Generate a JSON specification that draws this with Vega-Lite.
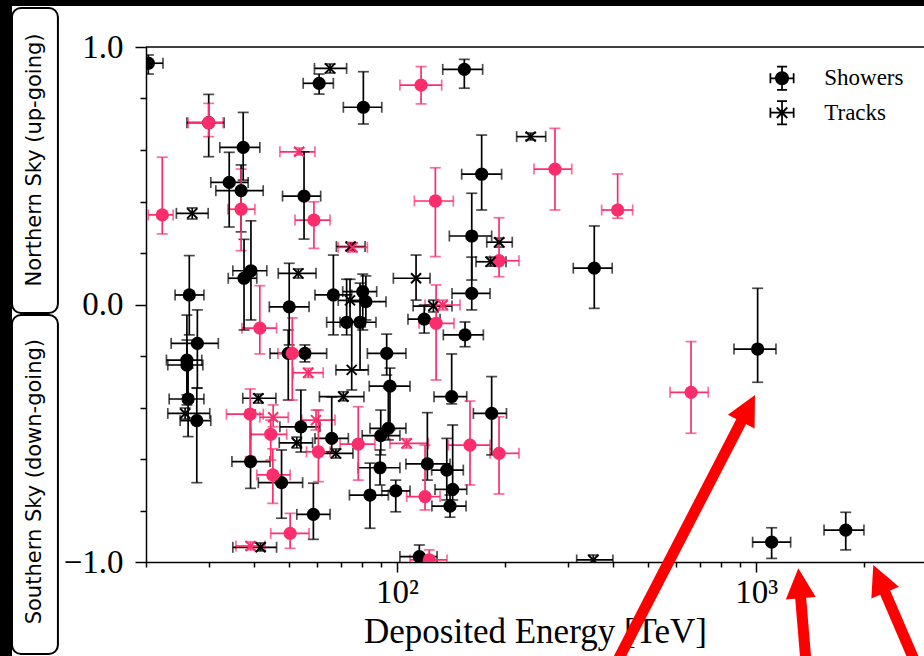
{
  "$schema": "https://vega.github.io/schema/vega-lite/v6.json",
  "width": 778,
  "height": 515,
  "autosize": {"type": "none"},
  "padding": {"left": 146, "top": 47, "right": 0, "bottom": 94},
  "background": "white",
  "config": {
    "view": {"stroke": null},
    "font": "Liberation Serif",
    "axis": {
      "domainColor": "black", "domainWidth": 1.5, "tickColor": "black", "tickWidth": 1.5,
      "labelColor": "black", "titleColor": "black", "labelFont": "Liberation Serif", "titleFont": "Liberation Serif",
      "labelFontSize": 33, "titleFontSize": 35, "titleFontWeight": "normal", "grid": false,
      "labelOverlap": false, "labelFlush": false
    }
  },
  "datasets": {
    "ev": [
      {"E":20.3,"Elo":18.4,"Ehi":22.3,"y":0.937,"ylo":0.895,"yhi":0.969,"t":"S","g":"k"},
      {"E":29.9,"Elo":26.0,"Ehi":33.0,"y":0.706,"ylo":0.574,"yhi":0.816,"t":"S","g":"k"},
      {"E":37.3,"Elo":32.1,"Ehi":41.5,"y":0.610,"ylo":0.483,"yhi":0.746,"t":"S","g":"k"},
      {"E":34.1,"Elo":30.3,"Ehi":38.5,"y":0.474,"ylo":0.301,"yhi":0.591,"t":"S","g":"k"},
      {"E":36.8,"Elo":31.3,"Ehi":42.4,"y":0.442,"ylo":0.282,"yhi":0.542,"t":"S","g":"k"},
      {"E":26.4,"Elo":24.1,"Ehi":29.0,"y":0.037,"ylo":-0.118,"yhi":0.190,"t":"S","g":"k"},
      {"E":37.5,"Elo":33.9,"Ehi":40.7,"y":0.102,"ylo":-0.099,"yhi":0.253,"t":"S","g":"k"},
      {"E":39.2,"Elo":34.9,"Ehi":43.4,"y":0.131,"ylo":-0.060,"yhi":0.325,"t":"S","g":"k"},
      {"E":50.1,"Elo":44.1,"Ehi":56.9,"y":-0.009,"ylo":-0.157,"yhi":0.160,"t":"S","g":"k"},
      {"E":49.8,"Elo":44.3,"Ehi":55.4,"y":-0.190,"ylo":-0.371,"yhi":-0.099,"t":"S","g":"k"},
      {"E":55.4,"Elo":49.1,"Ehi":63.7,"y":-0.190,"ylo":-0.223,"yhi":-0.157,"t":"S","g":"k"},
      {"E":54.0,"Elo":47.2,"Ehi":61.0,"y":-0.475,"ylo":-0.573,"yhi":-0.332,"t":"S","g":"k"},
      {"E":65.8,"Elo":59.1,"Ehi":73.2,"y":-0.520,"ylo":-0.573,"yhi":-0.359,"t":"S","g":"k"},
      {"E":90.1,"Elo":80.0,"Ehi":101.9,"y":-0.509,"ylo":-0.584,"yhi":-0.410,"t":"S","g":"k"},
      {"E":94.6,"Elo":84.1,"Ehi":105.9,"y":-0.481,"ylo":-0.526,"yhi":-0.324,"t":"S","g":"k"},
      {"E":39.1,"Elo":34.7,"Ehi":44.3,"y":-0.610,"ylo":-0.714,"yhi":-0.410,"t":"S","g":"k"},
      {"E":47.7,"Elo":41.1,"Ehi":54.6,"y":-0.692,"ylo":-0.830,"yhi":-0.565,"t":"S","g":"k"},
      {"E":58.5,"Elo":52.6,"Ehi":65.1,"y":-0.815,"ylo":-0.912,"yhi":-0.694,"t":"S","g":"k"},
      {"E":27.8,"Elo":23.5,"Ehi":31.8,"y":-0.151,"ylo":-0.325,"yhi":-0.021,"t":"S","g":"k"},
      {"E":26.0,"Elo":22.8,"Ehi":28.6,"y":-0.216,"ylo":-0.351,"yhi":-0.041,"t":"S","g":"k"},
      {"E":26.0,"Elo":23.0,"Ehi":28.8,"y":-0.235,"ylo":-0.390,"yhi":-0.138,"t":"S","g":"k"},
      {"E":26.2,"Elo":23.2,"Ehi":29.0,"y":-0.367,"ylo":-0.513,"yhi":-0.247,"t":"S","g":"k"},
      {"E":27.7,"Elo":24.9,"Ehi":30.3,"y":-0.451,"ylo":-0.692,"yhi":-0.324,"t":"S","g":"k"},
      {"E":55.1,"Elo":48.0,"Ehi":61.3,"y":0.421,"ylo":0.254,"yhi":0.593,"t":"S","g":"k"},
      {"E":66.5,"Elo":59.1,"Ehi":74.8,"y":0.037,"ylo":-0.118,"yhi":0.192,"t":"S","g":"k"},
      {"E":80.3,"Elo":70.6,"Ehi":87.8,"y":0.050,"ylo":-0.099,"yhi":0.118,"t":"S","g":"k"},
      {"E":81.9,"Elo":74.0,"Ehi":93.2,"y":0.011,"ylo":-0.060,"yhi":0.111,"t":"S","g":"k"},
      {"E":72.4,"Elo":63.7,"Ehi":81.5,"y":-0.069,"ylo":-0.118,"yhi":0.098,"t":"S","g":"k"},
      {"E":78.9,"Elo":69.4,"Ehi":87.4,"y":-0.069,"ylo":-0.254,"yhi":0.083,"t":"S","g":"k"},
      {"E":60.7,"Elo":54.8,"Ehi":66.5,"y":0.859,"ylo":0.817,"yhi":0.895,"t":"S","g":"k"},
      {"E":80.6,"Elo":70.9,"Ehi":90.7,"y":0.766,"ylo":0.701,"yhi":0.904,"t":"S","g":"k"},
      {"E":154.0,"Elo":134.1,"Ehi":173.2,"y":0.913,"ylo":0.840,"yhi":0.952,"t":"S","g":"k"},
      {"E":172.1,"Elo":151.4,"Ehi":195.6,"y":0.506,"ylo":0.367,"yhi":0.658,"t":"S","g":"k"},
      {"E":161.5,"Elo":139.9,"Ehi":183.5,"y":0.266,"ylo":0.095,"yhi":0.432,"t":"S","g":"k"},
      {"E":354.3,"Elo":309.7,"Ehi":397.4,"y":0.141,"ylo":-0.015,"yhi":0.305,"t":"S","g":"k"},
      {"E":119.1,"Elo":107.3,"Ehi":131.8,"y":-0.057,"ylo":-0.111,"yhi":-0.002,"t":"S","g":"k"},
      {"E":161.5,"Elo":142.3,"Ehi":181.6,"y":0.043,"ylo":-0.021,"yhi":0.184,"t":"S","g":"k"},
      {"E":154.7,"Elo":134.6,"Ehi":174.0,"y":-0.118,"ylo":-0.164,"yhi":-0.068,"t":"S","g":"k"},
      {"E":142.0,"Elo":126.8,"Ehi":156.4,"y":-0.358,"ylo":-0.386,"yhi":-0.192,"t":"S","g":"k"},
      {"E":183.5,"Elo":163.2,"Ehi":201.8,"y":-0.423,"ylo":-0.584,"yhi":-0.280,"t":"S","g":"k"},
      {"E":121.5,"Elo":105.9,"Ehi":140.5,"y":-0.619,"ylo":-0.682,"yhi":-0.420,"t":"S","g":"k"},
      {"E":137.6,"Elo":124.9,"Ehi":153.0,"y":-0.643,"ylo":-0.759,"yhi":-0.520,"t":"S","g":"k"},
      {"E":142.9,"Elo":127.6,"Ehi":156.4,"y":-0.718,"ylo":-0.759,"yhi":-0.468,"t":"S","g":"k"},
      {"E":140.5,"Elo":125.1,"Ehi":155.7,"y":-0.783,"ylo":-0.826,"yhi":-0.740,"t":"S","g":"k"},
      {"E":89.7,"Elo":78.0,"Ehi":101.9,"y":-0.634,"ylo":-0.701,"yhi":-0.565,"t":"S","g":"k"},
      {"E":84.1,"Elo":73.7,"Ehi":94.6,"y":-0.740,"ylo":-0.869,"yhi":-0.616,"t":"S","g":"k"},
      {"E":99.2,"Elo":90.7,"Ehi":108.7,"y":-0.724,"ylo":-0.805,"yhi":-0.682,"t":"S","g":"k"},
      {"E":93.6,"Elo":82.7,"Ehi":105.9,"y":-0.190,"ylo":-0.274,"yhi":-0.115,"t":"S","g":"k"},
      {"E":95.6,"Elo":83.7,"Ehi":108.7,"y":-0.317,"ylo":-0.487,"yhi":-0.247,"t":"S","g":"k"},
      {"E":115.4,"Elo":101.9,"Ehi":129.3,"y":-0.979,"ylo":-1.01,"yhi":-0.934,"t":"S","g":"k"},
      {"E":1010,"Elo":868,"Ehi":1136,"y":-0.173,"ylo":-0.302,"yhi":0.063,"t":"S","g":"k"},
      {"E":1105,"Elo":978,"Ehi":1248,"y":-0.923,"ylo":-0.986,"yhi":-0.867,"t":"S","g":"k"},
      {"E":1777,"Elo":1546,"Ehi":1997,"y":-0.876,"ylo":-0.953,"yhi":-0.807,"t":"S","g":"k"},
      {"E":26.9,"Elo":24.3,"Ehi":29.8,"y":0.354,"ylo":0.332,"yhi":0.375,"t":"T","g":"k"},
      {"E":74.8,"Elo":67.6,"Ehi":83.2,"y":-0.254,"ylo":-0.332,"yhi":-0.068,"t":"T","g":"k"},
      {"E":70.9,"Elo":60.8,"Ehi":80.9,"y":-0.358,"ylo":-0.374,"yhi":-0.339,"t":"T","g":"k"},
      {"E":41.1,"Elo":37.2,"Ehi":46.0,"y":-0.364,"ylo":-0.383,"yhi":-0.348,"t":"T","g":"k"},
      {"E":52.6,"Elo":47.0,"Ehi":58.2,"y":-0.537,"ylo":-0.557,"yhi":-0.515,"t":"T","g":"k"},
      {"E":67.6,"Elo":60.7,"Ehi":75.4,"y":-0.578,"ylo":-0.596,"yhi":-0.561,"t":"T","g":"k"},
      {"E":41.7,"Elo":34.9,"Ehi":46.2,"y":-0.943,"ylo":-0.957,"yhi":-0.926,"t":"T","g":"k"},
      {"E":25.7,"Elo":23.0,"Ehi":30.1,"y":-0.423,"ylo":-0.445,"yhi":-0.402,"t":"T","g":"k"},
      {"E":53.1,"Elo":46.7,"Ehi":59.5,"y":0.121,"ylo":0.103,"yhi":0.138,"t":"T","g":"k"},
      {"E":74.0,"Elo":68.6,"Ehi":81.9,"y":0.016,"ylo":-0.068,"yhi":0.098,"t":"T","g":"k"},
      {"E":74.3,"Elo":67.8,"Ehi":81.5,"y":0.225,"ylo":0.210,"yhi":0.240,"t":"T","g":"k"},
      {"E":65.1,"Elo":58.9,"Ehi":72.4,"y":0.917,"ylo":0.899,"yhi":0.934,"t":"T","g":"k"},
      {"E":235.7,"Elo":215.4,"Ehi":259.5,"y":0.652,"ylo":0.639,"yhi":0.666,"t":"T","g":"k"},
      {"E":192.6,"Elo":177.8,"Ehi":209.4,"y":0.242,"ylo":0.223,"yhi":0.258,"t":"T","g":"k"},
      {"E":182.4,"Elo":166.0,"Ehi":201.2,"y":0.166,"ylo":0.149,"yhi":0.184,"t":"T","g":"k"},
      {"E":113.0,"Elo":97.7,"Ehi":123.6,"y":0.102,"ylo":0.017,"yhi":0.192,"t":"T","g":"k"},
      {"E":126.3,"Elo":110.9,"Ehi":142.3,"y":-0.006,"ylo":-0.029,"yhi":0.017,"t":"T","g":"k"},
      {"E":352.1,"Elo":316.5,"Ehi":399.3,"y":-0.992,"ylo":-1.01,"yhi":-0.973,"t":"T","g":"k"},
      {"E":29.9,"Elo":26.2,"Ehi":32.8,"y":0.706,"ylo":0.652,"yhi":0.781,"t":"S","g":"p"},
      {"E":36.8,"Elo":33.8,"Ehi":40.2,"y":0.370,"ylo":0.209,"yhi":0.526,"t":"S","g":"p"},
      {"E":22.2,"Elo":20.3,"Ehi":23.8,"y":0.348,"ylo":0.274,"yhi":0.572,"t":"S","g":"p"},
      {"E":41.5,"Elo":37.0,"Ehi":46.2,"y":-0.092,"ylo":-0.192,"yhi":0.073,"t":"S","g":"p"},
      {"E":51.1,"Elo":46.6,"Ehi":57.2,"y":-0.190,"ylo":-0.371,"yhi":-0.052,"t":"S","g":"p"},
      {"E":39.0,"Elo":33.5,"Ehi":42.4,"y":-0.426,"ylo":-0.591,"yhi":-0.328,"t":"S","g":"p"},
      {"E":44.5,"Elo":39.1,"Ehi":49.3,"y":-0.504,"ylo":-0.604,"yhi":-0.449,"t":"S","g":"p"},
      {"E":60.4,"Elo":56.0,"Ehi":65.1,"y":-0.572,"ylo":-0.688,"yhi":-0.410,"t":"S","g":"p"},
      {"E":78.0,"Elo":69.4,"Ehi":86.8,"y":-0.542,"ylo":-0.682,"yhi":-0.397,"t":"S","g":"p"},
      {"E":45.1,"Elo":40.7,"Ehi":50.4,"y":-0.662,"ylo":-0.772,"yhi":-0.561,"t":"S","g":"p"},
      {"E":50.4,"Elo":44.5,"Ehi":56.9,"y":-0.889,"ylo":-0.947,"yhi":-0.811,"t":"S","g":"p"},
      {"E":58.7,"Elo":52.0,"Ehi":65.1,"y":0.328,"ylo":0.218,"yhi":0.399,"t":"S","g":"p"},
      {"E":116.7,"Elo":101.9,"Ehi":133.2,"y":0.852,"ylo":0.779,"yhi":0.924,"t":"S","g":"p"},
      {"E":275.4,"Elo":240.8,"Ehi":306.6,"y":0.526,"ylo":0.367,"yhi":0.684,"t":"S","g":"p"},
      {"E":127.9,"Elo":111.8,"Ehi":143.5,"y":0.402,"ylo":0.186,"yhi":0.531,"t":"S","g":"p"},
      {"E":192.4,"Elo":181.6,"Ehi":218.6,"y":0.170,"ylo":0.108,"yhi":0.337,"t":"S","g":"p"},
      {"E":411.6,"Elo":371.5,"Ehi":453.2,"y":0.367,"ylo":0.335,"yhi":0.507,"t":"S","g":"p"},
      {"E":128.5,"Elo":115.2,"Ehi":144.1,"y":-0.073,"ylo":-0.293,"yhi":0.076,"t":"S","g":"p"},
      {"E":159.7,"Elo":138.9,"Ehi":181.6,"y":-0.546,"ylo":-0.701,"yhi":-0.375,"t":"S","g":"p"},
      {"E":192.4,"Elo":181.6,"Ehi":218.6,"y":-0.578,"ylo":-0.736,"yhi":-0.436,"t":"S","g":"p"},
      {"E":119.7,"Elo":106.4,"Ehi":131.8,"y":-0.746,"ylo":-0.798,"yhi":-0.546,"t":"S","g":"p"},
      {"E":123.0,"Elo":108.7,"Ehi":137.8,"y":-0.992,"ylo":-1.03,"yhi":-0.953,"t":"S","g":"p"},
      {"E":659,"Elo":576,"Ehi":736,"y":-0.341,"ylo":-0.500,"yhi":-0.144,"t":"S","g":"p"},
      {"E":56.6,"Elo":51.4,"Ehi":62.3,"y":-0.265,"ylo":-0.283,"yhi":-0.248,"t":"T","g":"p"},
      {"E":45.2,"Elo":41.5,"Ehi":49.8,"y":-0.438,"ylo":-0.475,"yhi":-0.390,"t":"T","g":"p"},
      {"E":59.5,"Elo":54.3,"Ehi":67.2,"y":-0.449,"ylo":-0.487,"yhi":-0.410,"t":"T","g":"p"},
      {"E":106.4,"Elo":95.6,"Ehi":122.2,"y":-0.539,"ylo":-0.557,"yhi":-0.522,"t":"T","g":"p"},
      {"E":39.1,"Elo":35.6,"Ehi":42.9,"y":-0.938,"ylo":-0.953,"yhi":-0.922,"t":"T","g":"p"},
      {"E":53.4,"Elo":47.2,"Ehi":59.1,"y":0.593,"ylo":0.581,"yhi":0.608,"t":"T","g":"p"},
      {"E":75.1,"Elo":68.6,"Ehi":82.7,"y":0.222,"ylo":0.204,"yhi":0.240,"t":"T","g":"p"},
      {"E":134.1,"Elo":119.7,"Ehi":149.8,"y":-0.002,"ylo":-0.021,"yhi":0.017,"t":"T","g":"p"}
    ],
    "arrows": [
      {"tailE":412.5,"tailY":-1.3806,"endE":936,"endY":-0.4206,"tipE":993,"tipY":-0.3515,"ang":27.3},
      {"tailE":1377,"tailY":-1.3883,"endE":1324,"endY":-1.1018,"tipE":1311,"tipY":-1.0245,"ang":-4.7},
      {"tailE":2770,"tailY":-1.3883,"endE":2231,"endY":-1.0831,"tipE":2120,"tipY":-1.0117,"ang":-23.3}
    ]
  },
  "layer": [
    {
      "data": {"values": [{}]},
      "mark": {"type": "rect", "color": "black", "clip": false},
      "encoding": {
        "x": {"datum": 5, "scale": {"type": "log", "domain": [20, 2935], "nice": false}},
        "x2": {"datum": 100000},
        "y": {"datum": 1.4, "scale": {"domain": [-1, 1], "nice": false, "zero": false}},
        "y2": {"datum": 1.1592}
      }
    },
    {
      "data": {"values": [{}]},
      "mark": {"type": "rect", "color": "black", "clip": false},
      "encoding": {
        "x": {"datum": 3},
        "x2": {"datum": 8.47},
        "y": {"datum": 1.4},
        "y2": {"datum": -1.6}
      }
    },
    {
      "data": {"values": [{}]},
      "mark": {"type": "rect", "fill": "white", "stroke": "black", "strokeWidth": 2, "cornerRadius": 9, "clip": false},
      "encoding": {
        "x": {"datum": 8.47},
        "x2": {"datum": 11.37},
        "y": {"datum": 1.1515},
        "y2": {"datum": -0.033}
      }
    },
    {
      "data": {"values": [{}]},
      "mark": {"type": "rect", "fill": "white", "stroke": "black", "strokeWidth": 2, "cornerRadius": 9, "clip": false},
      "encoding": {
        "x": {"datum": 8.47},
        "x2": {"datum": 11.37},
        "y": {"datum": -0.0408},
        "y2": {"datum": -1.3573}
      }
    },
    {
      "data": {"values": [{}]},
      "mark": {"type": "text", "text": "Northern Sky (up-going)", "angle": 270, "font": "DejaVu Sans", "fontSize": 21, "color": "black", "align": "center", "baseline": "middle", "clip": false},
      "encoding": {"x": {"datum": 9.816}, "y": {"datum": 0.5612}}
    },
    {
      "data": {"values": [{}]},
      "mark": {"type": "text", "text": "Southern Sky (down-going)", "angle": 270, "font": "DejaVu Sans", "fontSize": 21, "color": "black", "align": "center", "baseline": "middle", "clip": false},
      "encoding": {"x": {"datum": 9.816}, "y": {"datum": -0.688}}
    },
    {
      "data": {"name": "ev"},
      "mark": {"type": "errorbar", "ticks": {"size": 11}, "thickness": 1.7, "clip": true},
      "encoding": {
        "x": {"field": "Elo", "type": "quantitative", "scale": {"type": "log", "domain": [20, 2935], "nice": false},
          "axis": {
            "title": "Deposited Energy [TeV]",
            "labelFont": "Liberation Serif", "titleFont": "Liberation Serif",
            "labelFontSize": 33, "titleFontSize": 35,
            "values": [20, 30, 40, 50, 60, 70, 80, 90, 100, 200, 300, 400, 500, 600, 700, 800, 900, 1000, 2000],
            "labelExpr": "datum.value == 100 ? '10²' : datum.value == 1000 ? '10³' : ''",
            "tickSize": {"condition": {"test": "datum.value == 100 || datum.value == 1000", "value": 10}, "value": 5},
            "labelPadding": 4,
            "titlePadding": 5
          }},
        "x2": {"field": "Ehi"},
        "y": {"field": "y", "type": "quantitative", "scale": {"domain": [-1, 1], "nice": false, "zero": false},
          "axis": {
            "title": null,
            "labelFont": "Liberation Serif", "labelFontSize": 33,
            "values": [-1, -0.9, -0.8, -0.7, -0.6, -0.5, -0.4, -0.3, -0.2, -0.1, 0, 0.1, 0.2, 0.3, 0.4, 0.5, 0.6, 0.7, 0.8, 0.9, 1],
            "format": ".1f",
            "labelExpr": "abs(datum.value*2 - round(datum.value*2)) < 0.001 ? datum.label : ''",
            "tickSize": {"condition": {"test": "abs(datum.value*2 - round(datum.value*2)) < 0.001", "value": 11}, "value": 6},
            "labelPadding": 12
          }},
        "color": {"field": "g", "type": "nominal", "scale": {"domain": ["k", "p"], "range": ["#000000", "#fb2d6c"]}, "legend": null}
      }
    },
    {
      "data": {"name": "ev"},
      "mark": {"type": "errorbar", "ticks": {"size": 11}, "thickness": 1.7, "clip": true},
      "encoding": {
        "x": {"field": "E", "type": "quantitative"},
        "y": {"field": "ylo", "type": "quantitative"},
        "y2": {"field": "yhi"},
        "color": {"field": "g", "type": "nominal", "legend": null}
      }
    },
    {
      "data": {"name": "ev"},
      "transform": [{"filter": "datum.t == 'S'"}],
      "mark": {"type": "point", "shape": "circle", "filled": true, "size": 175, "opacity": 1, "clip": true},
      "encoding": {
        "x": {"field": "E", "type": "quantitative"},
        "y": {"field": "y", "type": "quantitative"},
        "color": {"field": "g", "type": "nominal", "legend": null}
      }
    },
    {
      "data": {"name": "ev"},
      "transform": [{"filter": "datum.t == 'T'"}],
      "mark": {"type": "point", "shape": "M-1,-1L1,1M-1,1L1,-1", "filled": false, "size": 100, "strokeWidth": 2, "opacity": 1, "clip": true},
      "encoding": {
        "x": {"field": "E", "type": "quantitative"},
        "y": {"field": "y", "type": "quantitative"},
        "color": {"field": "g", "type": "nominal", "legend": null}
      }
    },
    {
      "data": {"values": [{}]},
      "mark": {"type": "rule", "color": "black", "strokeWidth": 1.5},
      "encoding": {"x": {"datum": 20}, "x2": {"datum": 2935}, "y": {"datum": 1}}
    },
    {
      "data": {"values": [{}]},
      "mark": {"type": "point", "filled": true, "opacity": 1, "color": "black", "size": 625,
        "shape": "M-1,-0.07H1V0.07H-1ZM-0.07,-1H0.07V1H-0.07ZM-1,-0.4H-0.86V0.4H-1ZM0.86,-0.4H1V0.4H0.86ZM-0.4,-1H0.4V-0.86H-0.4ZM-0.4,0.86H0.4V1H-0.4ZM-0.56,0A0.56,0.56,0,1,1,0.56,0A0.56,0.56,0,1,1,-0.56,0Z"},
      "encoding": {"x": {"datum": 1181}, "y": {"datum": 0.8784}}
    },
    {
      "data": {"values": [{}]},
      "mark": {"type": "point", "filled": true, "opacity": 1, "color": "black", "size": 625,
        "shape": "M-1,-0.07H1V0.07H-1ZM-0.07,-1H0.07V1H-0.07ZM-1,-0.4H-0.86V0.4H-1ZM0.86,-0.4H1V0.4H0.86ZM-0.4,-1H0.4V-0.86H-0.4ZM-0.4,0.86H0.4V1H-0.4ZM-0.365,-0.475L0.475,0.365L0.365,0.475L-0.475,-0.365ZM-0.475,0.365L0.365,-0.475L0.475,-0.365L-0.365,0.475Z"},
      "encoding": {"x": {"datum": 1181}, "y": {"datum": 0.7449}}
    },
    {
      "data": {"values": [{}]},
      "mark": {"type": "text", "text": "Showers", "font": "Liberation Serif", "fontSize": 23, "color": "black", "align": "left", "baseline": "middle"},
      "encoding": {"x": {"datum": 1548}, "y": {"datum": 0.8784}}
    },
    {
      "data": {"values": [{}]},
      "mark": {"type": "text", "text": "Tracks", "font": "Liberation Serif", "fontSize": 23, "color": "black", "align": "left", "baseline": "middle"},
      "encoding": {"x": {"datum": 1548}, "y": {"datum": 0.7449}}
    },
    {
      "data": {"name": "arrows"},
      "mark": {"type": "rule", "color": "#ff0000", "strokeWidth": 11, "strokeCap": "butt", "clip": false},
      "encoding": {
        "x": {"field": "tailE", "type": "quantitative"},
        "y": {"field": "tailY", "type": "quantitative"},
        "x2": {"field": "endE"},
        "y2": {"field": "endY"}
      }
    },
    {
      "data": {"name": "arrows"},
      "mark": {"type": "point", "shape": "M0,0L1,2L-1,2Z", "filled": true, "opacity": 1, "color": "#ff0000", "size": 900, "clip": false},
      "encoding": {
        "x": {"field": "tipE", "type": "quantitative"},
        "y": {"field": "tipY", "type": "quantitative"},
        "angle": {"field": "ang", "type": "quantitative", "scale": null}
      }
    }
  ]
}
